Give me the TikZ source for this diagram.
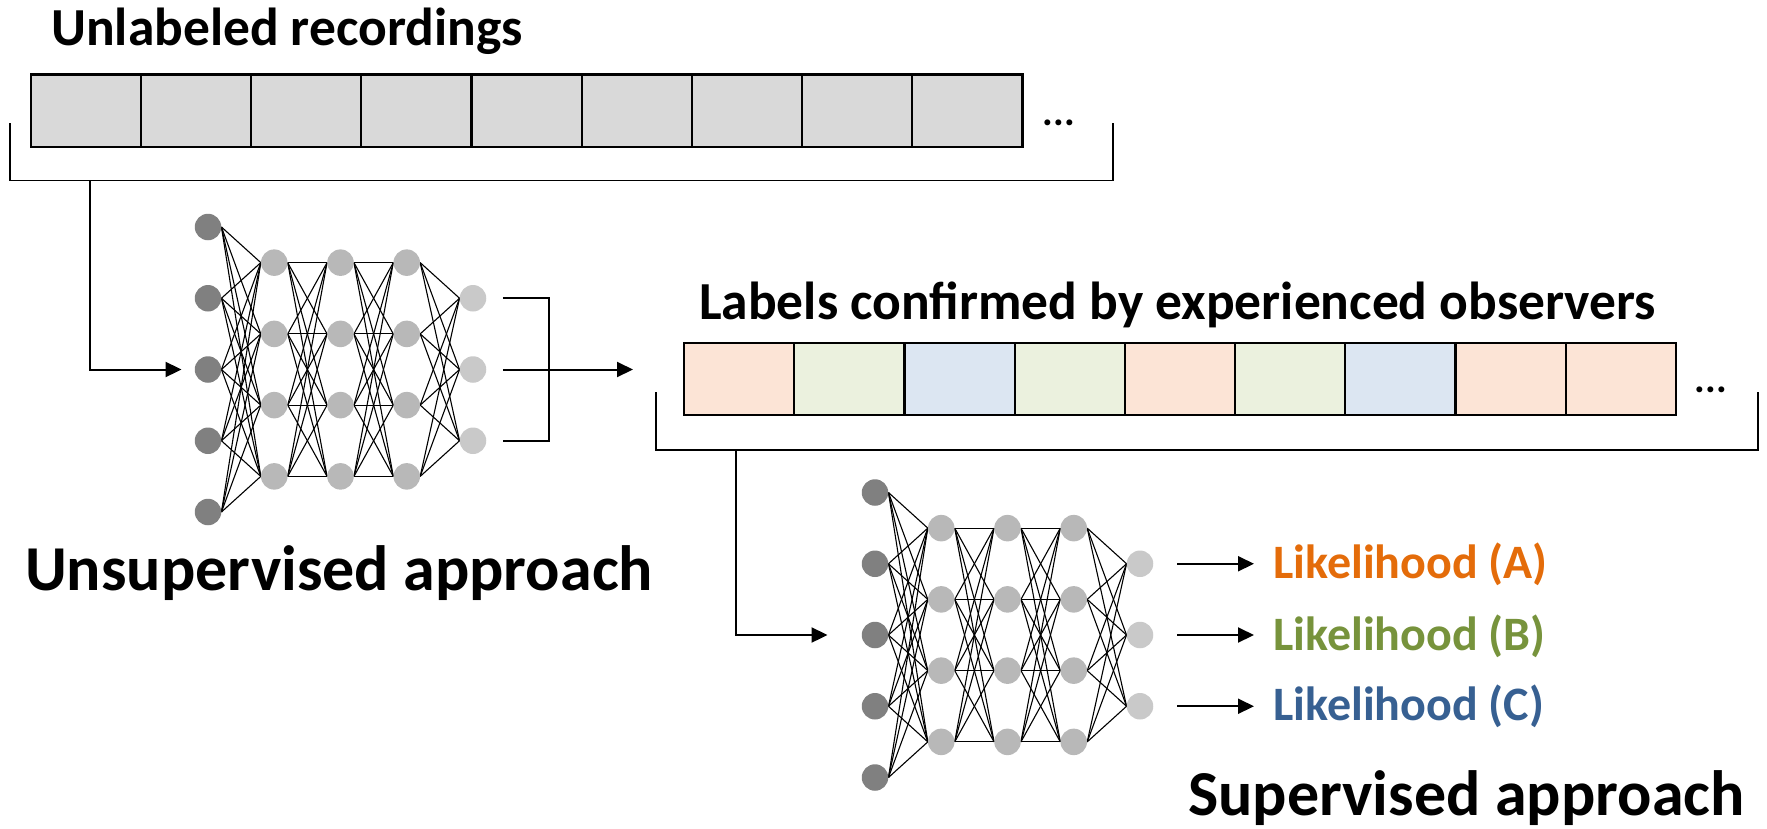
\documentclass[tikz,border=0pt]{standalone}
\usepackage{fontspec}
\setmainfont{Carlito}
\usetikzlibrary{arrows.meta,backgrounds}

\definecolor{cellgray}{HTML}{D9D9D9}
\definecolor{cellorange}{HTML}{FCE4D6}
\definecolor{cellgreen}{HTML}{EBF1DE}
\definecolor{cellblue}{HTML}{DCE6F2}
\definecolor{txtorange}{HTML}{E46C0A}
\definecolor{txtgreen}{HTML}{77933C}
\definecolor{txtblue}{HTML}{376092}
\definecolor{nninput}{HTML}{808080}
\definecolor{nnhidden}{HTML}{B8B8B8}
\definecolor{nnoutput}{HTML}{C9C9C9}

\tikzset{
  cell/.style={draw=black, line width=2.2pt, minimum width=110.2pt, minimum height=72.6pt, inner sep=0pt, outer sep=0pt},
  neuron/.style={circle, inner sep=0pt, minimum size=26.5pt, draw=none},
  inp/.style={neuron, fill=nninput},
  hid/.style={neuron, fill=nnhidden},
  outn/.style={neuron, fill=nnoutput},
  synapse/.style={line width=1.1pt, black},
  bracketline/.style={line width=1.8pt, black},
  conn/.style={line width=2pt, black},
  arr/.style={conn, -{Triangle[length=16pt,width=15pt]}},
  title/.style={anchor=base west, inner sep=0pt, font=\bfseries\fontsize{53.5}{58}\selectfont},
  big/.style={anchor=base west, inner sep=0pt, font=\bfseries\fontsize{64}{70}\selectfont},
  like/.style={anchor=base west, inner sep=0pt, font=\bfseries\fontsize{48}{52}\selectfont},
  dots/.style={anchor=base west, inner sep=0pt, font=\bfseries\fontsize{40}{44}\selectfont},
}

% a fully connected network: 5 inputs, three hidden layers of 4, 3 outputs
\newcommand{\drawnet}[3]{%
  \begin{scope}[shift={(#2,#3)}]
    \foreach \i in {1,...,5} \node[inp] (#1i\i) at (0,{(\i-3)*71.25}) {};
    \foreach \l/\x in {a/66.25,b/132.5,c/198.75}
      \foreach \j in {1,...,4} \node[hid] (#1\l\j) at (\x,{(\j-2.5)*71.25}) {};
    \foreach \k in {1,2,3} \node[outn] (#1o\k) at (265,{(\k-2)*71.25}) {};
    \begin{pgfonlayer}{background}
      \foreach \i in {1,...,5} \foreach \j in {1,...,4}
        \draw[synapse] (#1i\i.east) -- (#1a\j.west);
      \foreach \p/\q in {a/b,b/c} \foreach \i in {1,...,4} \foreach \j in {1,...,4}
        \draw[synapse] (#1\p\i.east) -- (#1\q\j.west);
      \foreach \i in {1,...,4} \foreach \k in {1,2,3}
        \draw[synapse] (#1c\i.east) -- (#1o\k.west);
    \end{pgfonlayer}
  \end{scope}}

\begin{document}
\begin{tikzpicture}[x=1pt, y=-1pt]
  \useasboundingbox (0,0) rectangle (1767,828);

  % unlabeled recordings
  \node[title] (t1) at (51,45) {Unlabeled recordings};
  \foreach \n in {1,...,9}
    \node[cell, fill=cellgray] (u\n) at ({30.6+110.2*(\n-0.5)},110.8) {};
  \node[dots] (ud) at (1042.6,125) {...};
  \coordinate (b1l) at (9.6,123);
  \coordinate (b1r) at (1113,123);
  \draw[bracketline] (b1l) -- ++(0,57.5) -| (b1r);
  \coordinate (b1tap) at (90,180.5);

  % unsupervised network
  \drawnet{n1}{208}{369.5}
  \draw[arr] (b1tap) |- ([xshift=-13pt]n1i3.west);
  \draw[conn] ([xshift=16.5pt]n1o1.east) -- ++(46,0) |- ([xshift=16.5pt]n1o3.east);
  \coordinate (toLabels) at (633,369.5);
  \draw[arr] ([xshift=16.5pt]n1o2.east) -- (toLabels);
  \node[big] (unsup) at (25,590) {Unsupervised approach};

  % labelled recordings
  \node[title] (t2) at (699,319) {Labels confirmed by experienced observers};
  \foreach \c [count=\n] in {cellorange,cellgreen,cellblue,cellgreen,cellorange,cellgreen,cellblue,cellorange,cellorange}
    \node[cell, fill=\c] (l\n) at ({684+110.2*(\n-0.5)},379) {};
  \node[dots] (ld) at (1694.6,392.5) {...};
  \coordinate (b2l) at (656,392);
  \coordinate (b2r) at (1758,392);
  \draw[bracketline] (b2l) -- ++(0,58) -| (b2r);
  \coordinate (b2tap) at (735.5,450);

  % supervised network
  \drawnet{n2}{875}{635}
  \draw[arr] (b2tap) |- ([xshift=-34pt]n2i3.west);

  \node[like, text=txtorange] (likeA) at (1273,578) {Likelihood (A)};
  \node[like, text=txtgreen]  (likeB) at (1273,650) {Likelihood (B)};
  \node[like, text=txtblue]   (likeC) at (1273,720) {Likelihood (C)};
  \draw[arr] ([xshift=24pt]n2o1.east) -- ([xshift=-19pt]n2o1 -| likeA.west);
  \draw[arr] ([xshift=24pt]n2o2.east) -- ([xshift=-19pt]n2o2 -| likeB.west);
  \draw[arr] ([xshift=24pt]n2o3.east) -- ([xshift=-19pt]n2o3 -| likeC.west);

  \node[big] (sup) at (1188,815) {Supervised approach};
\end{tikzpicture}
\end{document}
